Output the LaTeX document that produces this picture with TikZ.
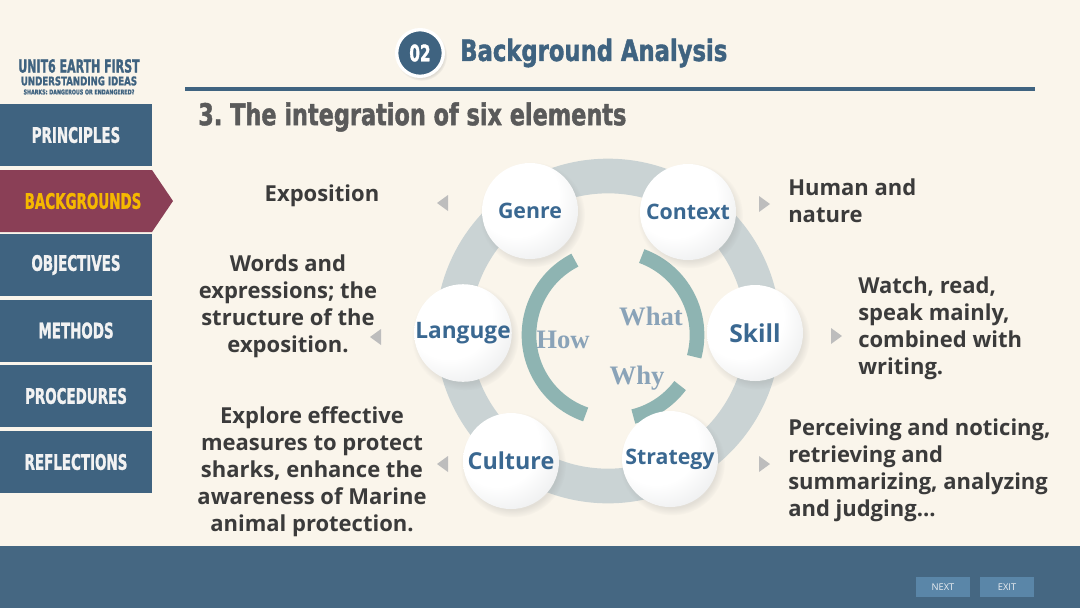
\documentclass[tikz,border=0pt]{standalone}
\usepackage{fontspec}
\setmainfont{Open Sans}
\newfontfamily\headfont{DejaVu Sans Condensed Bold}[FakeBold=1.6]
\newfontfamily\seriffont{Liberation Serif}
\usetikzlibrary{positioning, shadows}

\definecolor{paper}{HTML}{FAF5EB}
\definecolor{navy}{HTML}{3F6380}
\definecolor{wine}{HTML}{8A3F56}
\definecolor{gold}{HTML}{F5B800}
\definecolor{barblue}{HTML}{456782}
\definecolor{btnblue}{HTML}{5A86A8}
\definecolor{ringgray}{HTML}{CAD3D4}
\definecolor{teal}{HTML}{8EB4B2}
\definecolor{qblue}{HTML}{8AA3B8}
\definecolor{labelblue}{HTML}{3A6891}
\definecolor{ink}{HTML}{3B3B3B}
\definecolor{tipgray}{HTML}{BDBDBD}
\definecolor{titlegray}{HTML}{5A5A5A}
\definecolor{pearledge}{HTML}{B9BDC0}

\pgfdeclareradialshading{glossy}{\pgfpoint{-10bp}{12bp}}{color(0bp)=(white); color(22bp)=(white); color(44bp)=(pearledge!40); color(60bp)=(pearledge); color(80bp)=(pearledge)}

\newcommand{\squeeze}[2]{\scalebox{#1}[1]{#2}}

\begin{document}
\begin{tikzpicture}[x=0.75pt, y=-0.75pt,
    menu/.style={rectangle, fill=navy, minimum width=114pt, minimum height=46.5pt,
                 inner sep=0, text=white!95!black,
                 font=\headfont\fontsize{16}{16}\selectfont},
    pearl/.style={circle, minimum size=72pt, inner sep=0, shading=glossy,
                  circular drop shadow={shadow xshift=1.5pt, shadow yshift=-2.5pt, opacity=0.18},
                  text=labelblue, font=\bfseries\fontsize{16}{16}\selectfont},
    note/.style={text=ink, inner sep=0, font=\bfseries\fontsize{16.5}{20.3}\selectfont},
    pointer/.style={fill=tipgray},
    qword/.style={text=qblue, inner sep=0, font=\seriffont\bfseries\fontsize{20}{20}\selectfont},
    button/.style={rectangle, fill=btnblue, minimum width=41pt, minimum height=15pt,
                   inner sep=0, text=white!90!navy, font=\fontsize{7}{7}\selectfont}]

\useasboundingbox (0,0) rectangle (1080,608);
\fill[paper] (0,0) rectangle (1080,608);

\node[text=navy, font=\headfont\fontsize{13.5}{13.5}\selectfont] (unit) at (79,66) {\squeeze{0.68}{UNIT6 EARTH FIRST}};
\node[text=navy, font=\headfont\fontsize{9}{9}\selectfont] (ideas) at (79,81) {\squeeze{0.8}{UNDERSTANDING IDEAS}};
\node[text=navy, font=\headfont\fontsize{5}{5}\selectfont] (sharks) at (79,92) {\squeeze{0.8}{SHARKS: DANGEROUS OR ENDANGERED?}};

\node[menu] (principles) at (76,135) {\squeeze{0.7}{PRINCIPLES}};
\fill[wine] (0,170) -- (152,170) -- (173,201) -- (152,232) -- (0,232) -- cycle;
\node[menu, fill=none, text=gold] (backgrounds) at (83,201) {\squeeze{0.7}{BACKGROUNDS}};
\node[menu] (objectives) at (76,265) {\squeeze{0.7}{OBJECTIVES}};
\node[menu] (methods) at (76,330.5) {\squeeze{0.7}{METHODS}};
\node[menu] (procedures) at (76,396) {\squeeze{0.7}{PROCEDURES}};
\node[menu] (reflections) at (76,462) {\squeeze{0.7}{REFLECTIONS}};

\node[circle, fill=navy, draw=white, line width=2.5pt, minimum size=35pt, inner sep=0,
      circular drop shadow={shadow xshift=1pt, shadow yshift=-1.5pt, opacity=0.25},
      text=white, font=\headfont\fontsize{17}{17}\selectfont] (num) at (420,53) {\squeeze{0.75}{02}};
\node[anchor=west, inner sep=0, text=navy, font=\headfont\fontsize{22}{22}\selectfont] (heading) at (460,53) {\squeeze{0.86}{Background Analysis}};
\draw[navy, line width=3.5pt] (185,89) -- (1035,89);
\node[anchor=west, inner sep=0, text=titlegray, font=\headfont\fontsize{22.5}{22.5}\selectfont] (subtitle) at (198,117) {\squeeze{0.83}{3.\ The integration of six elements}};

\coordinate (hub) at (608,331);
\draw[ringgray, line width=26pt] (hub) circle[radius=155];

\coordinate (core) at (613,335);
\draw[teal, line width=11pt] (core) ++(-117:84) arc[start angle=-117, end angle=-251, radius=84];
\draw[teal, line width=11pt] (core) ++(-70:84) arc[start angle=-70, end angle=15, radius=84];
\draw[teal, line width=11pt] (core) ++(37:84) arc[start angle=37, end angle=76, radius=84];

\node[qword] (what) at (651,316) {What};
\node[qword] (how) at (563,340) {How};
\node[qword] (why) at (637,378) {Why};

\node[pearl] (genre) at (530,211) {Genre};
\node[pearl] (context) at (688,212) {Context};
\node[pearl, font=\bfseries\fontsize{18.5}{18.5}\selectfont] (skill) at (755,333) {Skill};
\node[pearl] (strategy) at (670,459) {Strategy};
\node[pearl, font=\bfseries\fontsize{17.5}{17.5}\selectfont] (culture) at (511,461) {Culture};
\node[pearl, font=\bfseries\fontsize{17}{17}\selectfont] (languge) at (463,333) {Languge};

\fill[pointer] (437,203) -- (448,195) -- (448,211) -- cycle;
\fill[pointer] (370,337) -- (381,329) -- (381,345) -- cycle;
\fill[pointer] (437,464) -- (448,456) -- (448,472) -- cycle;
\fill[pointer] (770,204) -- (759,196) -- (759,212) -- cycle;
\fill[pointer] (842,336) -- (831,328) -- (831,344) -- cycle;
\fill[pointer] (770,464) -- (759,456) -- (759,472) -- cycle;

\node[note] (genrenote) at (322,196) {Exposition};
\node[note, align=center] (langnote) at (288,306) {Words and\\expressions; the\\structure of the\\exposition.};
\node[note, align=center] (culturenote) at (312,472) {Explore effective\\measures to protect\\sharks, enhance the\\awareness of Marine\\animal protection.};
\node[note, align=left, anchor=west] (contextnote) at (788,201) {Human and\\nature};
\node[note, align=left, anchor=west] (skillnote) at (858,328) {Watch, read,\\speak mainly,\\combined with\\writing.};
\node[note, align=left, anchor=west] (strategynote) at (788,470) {Perceiving and noticing,\\retrieving and\\summarizing, analyzing\\and judging...};

\fill[barblue] (0,546) rectangle (1080,608);
\node[button] (next) at (943,587) {NEXT};
\node[button] (exit) at (1007,587) {EXIT};

\end{tikzpicture}
\end{document}
